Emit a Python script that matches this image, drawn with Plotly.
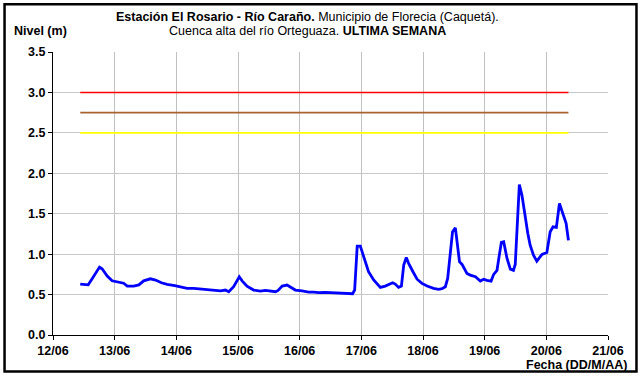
import pandas as pd
import plotly.graph_objects as go

# Hourly offsets (from 12/06 00:00) and river level readings (m)
hours = [10.6, 13.7, 15.3, 18.1, 19.1, 21.1, 23.0, 25.0, 27.5, 28.9, 31.4, 33.4,
         35.3, 37.9, 39.9, 42.2, 44.4, 47.4, 49.6, 52.2, 54.8, 58.7, 62.6, 65.2,
         67.1, 68.4, 70.3, 72.5, 73.6, 75.5, 78.1, 80.7, 82.7, 85.3, 86.6, 87.6,
         89.2, 91.1, 92.4, 94.3, 96.9, 99.5, 101.5, 103.4, 106.0, 108.6, 112.5,
         116.6, 117.4, 118.4, 119.6, 120.9, 122.8, 124.8, 127.4, 129.3, 132.2,
         133.2, 134.5, 135.6, 136.5, 137.5, 138.4, 140.1, 141.7, 143.6, 145.6,
         148.1, 150.1, 151.4, 152.7, 153.6, 154.6, 155.5, 156.6, 157.6, 158.2,
         159.2, 161.1, 162.4, 164.4, 166.3, 167.6, 168.9, 170.5, 171.5, 172.8,
         173.7, 174.5, 175.4, 176.7, 178.0, 179.2, 179.9, 180.7, 181.5, 182.5,
         183.8, 184.8, 185.7, 187.0, 188.3, 190.3, 192.2, 193.5, 194.6, 195.9,
         197.1, 198.7, 199.7, 200.6]
nivel = [0.63, 0.62, 0.70, 0.84, 0.82, 0.73, 0.67, 0.655, 0.64, 0.605, 0.605, 0.62,
         0.67, 0.695, 0.68, 0.646, 0.626, 0.61, 0.597, 0.577, 0.577, 0.565, 0.552, 0.547,
         0.556, 0.535, 0.597, 0.72, 0.67, 0.605, 0.556, 0.543, 0.552, 0.543, 0.535, 0.552,
         0.605, 0.618, 0.597, 0.556, 0.547, 0.531, 0.531, 0.523, 0.527, 0.523, 0.51,
         0.51, 0.556, 1.10, 1.10, 0.976, 0.782, 0.68, 0.589, 0.605, 0.646,
         0.63, 0.589, 0.605, 0.865, 0.96, 0.886, 0.782, 0.69, 0.638, 0.605,
         0.577, 0.565, 0.572, 0.597, 0.70, 1.01, 1.276, 1.325, 1.01, 0.906,
         0.873, 0.762, 0.741, 0.72, 0.667, 0.69, 0.676, 0.667, 0.75, 0.80,
         0.988, 1.145, 1.153, 0.947, 0.815, 0.80, 0.873, 1.359, 1.86, 1.73,
         1.44, 1.256, 1.11, 0.988, 0.914, 0.997, 1.02, 1.276, 1.338, 1.33,
         1.627, 1.48, 1.38, 1.17]

# Alert thresholds (m)
umbral_rojo = 3.0
umbral_naranja = 2.75
umbral_amarillo = 2.5

inicio = pd.Timestamp("2012-06-12")
fechas = inicio + pd.to_timedelta(hours, unit="h")
x_umbral = [fechas[0], fechas[-1]]

fig = go.Figure()
for val, col in [(umbral_rojo, "#ff0000"), (umbral_naranja, "#a8642e"),
                 (umbral_amarillo, "#ffff00")]:
    fig.add_trace(go.Scatter(x=x_umbral, y=[val, val], mode="lines",
                             line=dict(color=col, width=1.6), hoverinfo="skip"))
fig.add_trace(go.Scatter(x=fechas, y=nivel, mode="lines",
                         line=dict(color="#0000ff", width=2.8)))

FONT = "Liberation Sans, Arial, sans-serif"
FS = 12.5
L, R, T, B = 52.5, 608.0, 51.7, 335.0
W, H = 641, 378


def px(x):
    return (x - L) / (R - L)


def py(y):
    return (B - y) / (B - T)


tick_font = dict(family=FONT, size=FS, color="black", weight="bold")

fig.update_layout(
    width=W, height=H,
    margin=dict(l=L, r=W - R, t=T, b=H - B),
    paper_bgcolor="white", plot_bgcolor="white",
    showlegend=False,
    font=dict(family=FONT, size=FS, color="black"),
    xaxis=dict(
        type="date",
        range=[inicio, inicio + pd.Timedelta(days=9)],
        dtick=86400000, tick0=inicio, tickformat="%d/%m",
        showgrid=True, gridcolor="#c0c0c0", gridwidth=1,
        showline=True, linecolor="black", linewidth=1,
        ticks="outside", ticklen=4, tickcolor="black",
        tickfont=tick_font, zeroline=False,
    ),
    yaxis=dict(
        range=[0, 3.5], dtick=0.5, tickformat=".1f",
        showgrid=True, gridcolor="#c8c8c8", gridwidth=1,
        showline=True, linecolor="black", linewidth=1,
        ticks="outside", ticklen=4, tickcolor="black",
        tickfont=tick_font, zeroline=False,
    ),
    shapes=[dict(type="rect", xref="paper", yref="paper",
                 x0=px(4), x1=px(636.5), y0=py(371.5), y1=py(4),
                 line=dict(color="black", width=2.5), fillcolor="rgba(0,0,0,0)")],
    annotations=[
        dict(xref="paper", yref="paper", x=px(307), y=py(16.5), xanchor="center",
             yanchor="middle", showarrow=False,
             text="<b>Estación El Rosario - Río Caraño.</b> Municipio de Florecia (Caquetá).",
             font=dict(family=FONT, size=FS, color="black")),
        dict(xref="paper", yref="paper", x=px(307), y=py(30.5), xanchor="center",
             yanchor="middle", showarrow=False,
             text="Cuenca alta del río Orteguaza. <b>ULTIMA SEMANA</b>",
             font=dict(family=FONT, size=FS, color="black")),
        dict(xref="paper", yref="paper", x=px(11), y=py(31), xanchor="left",
             yanchor="middle", showarrow=False, text="<b>Nivel (m)</b>",
             font=dict(family=FONT, size=FS, color="black")),
        dict(xref="paper", yref="paper", x=px(629), y=py(365), xanchor="right",
             yanchor="middle", showarrow=False, text="<b>Fecha (DD/M/AA)</b>",
             font=dict(family=FONT, size=FS, color="black")),
    ],
)

fig.write_html("out.html")
